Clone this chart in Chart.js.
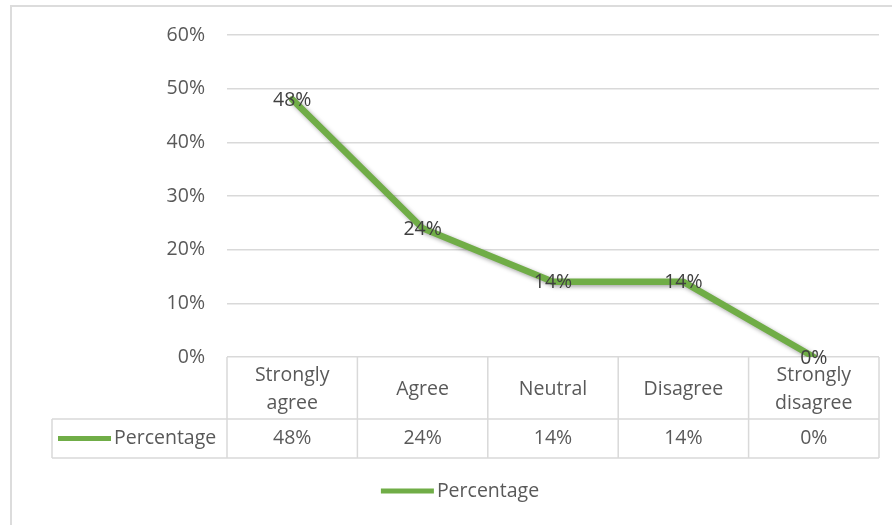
<!DOCTYPE html>
<html>
<head>
<meta charset="utf-8">
<script src="https://cdn.jsdelivr.net/npm/chart.js@4"></script>
<style>
html,body{margin:0;padding:0;background:#fff;}
#wrap{width:892px;height:525px;position:relative;}
</style>
</head>
<body>
<div id="wrap"><canvas id="c" width="892" height="525"></canvas></div>
<script>
const categories = ["Strongly agree", "Agree", "Neutral", "Disagree", "Strongly disagree"];
const seriesName = "Percentage";
const percentages = [48, 24, 14, 14, 0];
const yTicks = [0, 10, 20, 30, 40, 50, 60];

const FONT = "'Open Sans', 'Liberation Sans', sans-serif";
const FSIZE = 19.5;
const TXT = '#595959';
const GRID = '#d9d9d9';
const GREEN = '#70AD47';

const shadowPlugin = {
  id: 'shadow',
  beforeDatasetDraw(chart) {
    const ctx = chart.ctx;
    ctx.save();
    ctx.shadowColor = 'rgba(0,0,0,0.35)';
    ctx.shadowBlur = 4;
    ctx.shadowOffsetX = 2;
    ctx.shadowOffsetY = 2;
  },
  afterDatasetDraw(chart) { chart.ctx.restore(); }
};

const decorPlugin = {
  id: 'decor',
  beforeDraw(chart) {
    const ctx = chart.ctx;
    ctx.save();
    ctx.strokeStyle = '#dcdcdc';
    ctx.lineWidth = 2;
    ctx.beginPath();
    ctx.moveTo(11, 525); ctx.lineTo(11, 6); ctx.lineTo(892, 6);
    ctx.stroke();
    ctx.restore();
  },
  afterDraw(chart) {
    const ctx = chart.ctx;
    const xs = chart.scales.x, ys = chart.scales.y;
    const ca = chart.chartArea;
    const ds = chart.data.datasets[0];
    const n = chart.data.labels.length;
    const colW = (ca.right - ca.left) / n;
    const top = ys.getPixelForValue(0);
    const rowTop = top + 62;
    const rowBot = rowTop + 39;
    const tableLeft = 52;
    ctx.save();
    // data labels
    const meta = chart.getDatasetMeta(0);
    ctx.font = FSIZE + 'px ' + FONT;
    ctx.fillStyle = '#404040';
    ctx.textAlign = 'center';
    ctx.textBaseline = 'middle';
    meta.data.forEach((pt, i) => {
      ctx.fillText(ds.data[i] + '%', pt.x, pt.y + 1);
    });
    // table lines
    ctx.strokeStyle = GRID;
    ctx.lineWidth = 1.5;
    ctx.beginPath();
    for (let i = 0; i <= n; i++) {
      const x = ca.left + i * colW;
      ctx.moveTo(x, top); ctx.lineTo(x, rowBot);
    }
    ctx.moveTo(tableLeft, rowTop); ctx.lineTo(ca.right, rowTop);
    ctx.moveTo(tableLeft, rowBot); ctx.lineTo(ca.right, rowBot);
    ctx.moveTo(tableLeft, rowTop); ctx.lineTo(tableLeft, rowBot);
    ctx.stroke();
    // header texts
    ctx.fillStyle = TXT;
    ctx.font = FSIZE + 'px ' + FONT;
    chart.data.labels.forEach((lab, i) => {
      const cx = xs.getPixelForValue(i);
      const midY = (top + rowTop) / 2;
      const parts = lab.split(' ');
      if (parts.length > 1) {
        ctx.fillText(parts[0], cx, midY - 13);
        ctx.fillText(parts.slice(1).join(' '), cx, midY + 15);
      } else {
        ctx.fillText(lab, cx, midY + 1);
      }
      ctx.fillText(ds.data[i] + '%', cx, (rowTop + rowBot) / 2);
    });
    // legend key in table
    const rowMid = (rowTop + rowBot) / 2;
    ctx.strokeStyle = GREEN;
    ctx.lineWidth = 5;
    ctx.beginPath();
    ctx.moveTo(58, rowMid); ctx.lineTo(111, rowMid);
    ctx.stroke();
    ctx.textAlign = 'left';
    ctx.fillText(ds.label, 114, rowMid);
    // bottom legend
    const tw = ctx.measureText(ds.label).width;
    const total = 53 + 3 + tw;
    const lx = 460 - total / 2;
    const ly = 491;
    ctx.beginPath();
    ctx.moveTo(lx, ly); ctx.lineTo(lx + 53, ly);
    ctx.stroke();
    ctx.fillText(ds.label, lx + 56, ly);
    ctx.restore();
  }
};

new Chart(document.getElementById('c'), {
  type: 'line',
  data: {
    labels: categories,
    datasets: [{
      label: seriesName,
      data: percentages,
      borderColor: GREEN,
      backgroundColor: GREEN,
      borderWidth: 6.5,
      pointRadius: 0,
      tension: 0,
      borderJoinStyle: 'round',
      borderCapStyle: 'round'
    }]
  },
  options: {
    responsive: false,
    animation: false,
    devicePixelRatio: 1,
    layout: { padding: { left: 10, right: 13, top: 35, bottom: 168 } },
    plugins: { legend: { display: false }, tooltip: { enabled: false } },
    scales: {
      x: { display: false, offset: true, grid: { display: false } },
      y: {
        min: 0, max: 60,
        afterBuildTicks(scale) { scale.ticks = yTicks.map(v => ({ value: v })); },
        afterFit(scale) { scale.width = 217; },
        border: { display: false },
        grid: { color: GRID, lineWidth: 1.5, drawTicks: false },
        ticks: {
          padding: 22,
          color: TXT,
          font: { family: FONT, size: FSIZE },
          callback: v => v + '%'
        }
      }
    }
  },
  plugins: [decorPlugin, shadowPlugin]
});
</script>
</body>
</html>
